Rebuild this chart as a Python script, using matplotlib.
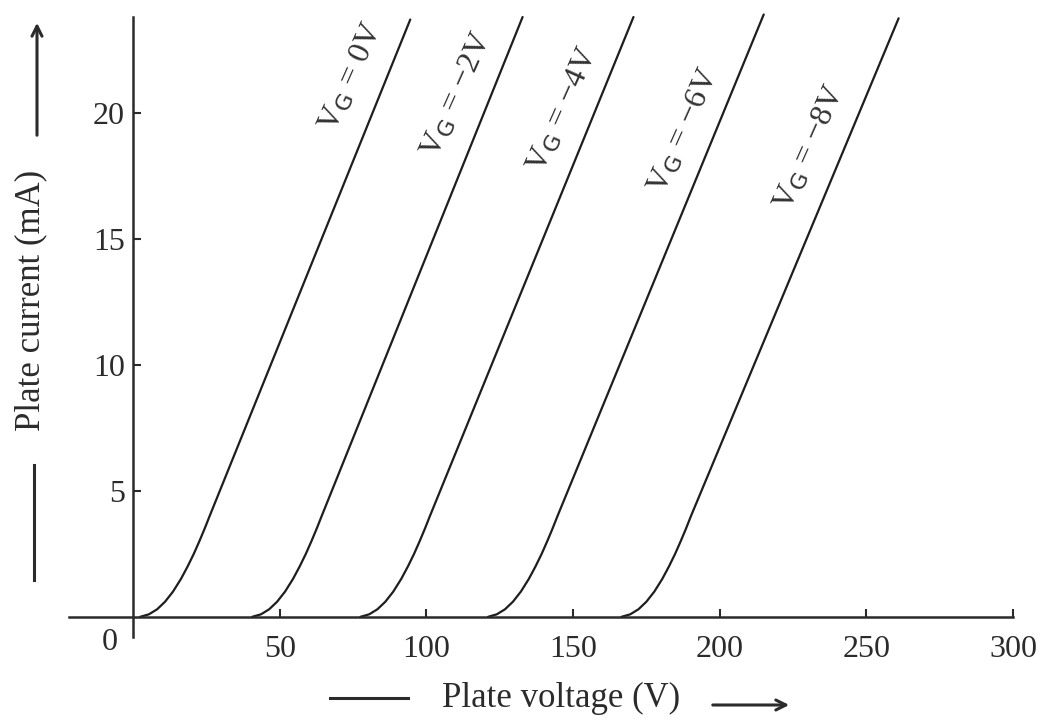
"""Triode plate characteristics: plate current vs plate voltage for several grid voltages."""

import matplotlib
matplotlib.use("Agg")
import matplotlib.pyplot as plt

plt.rcParams["font.family"] = ["Liberation Serif", "DejaVu Serif"]
plt.rcParams["mathtext.default"] = "regular"

# curves: plate voltage (V) and plate current (mA)
plate_i = [0, 0.1, 0.3, 0.6, 1.0, 1.5, 2.0, 2.5, 3.0, 3.5, 4.0]

vg_0_v = [2.4, 5.4, 8.2, 10.9, 13.6, 16.3, 18.6, 20.7, 22.6, 24.4, 26.1, 94.5]
vg_0_i = plate_i + [23.7]

vg_2_v = [40.6, 43.6, 46.4, 49.1, 51.8, 54.5, 56.8, 58.9, 60.8, 62.6, 64.3, 132.8]
vg_2_i = plate_i + [23.8]

vg_4_v = [77.5, 80.5, 83.3, 86.0, 88.7, 91.4, 93.7, 95.8, 97.7, 99.5, 101.2, 170.6]
vg_4_i = plate_i + [23.8]

vg_6_v = [121, 124.0, 126.8, 129.5, 132.2, 134.9, 137.2, 139.3, 141.2, 143.0, 144.7, 215]
vg_6_i = plate_i + [23.9]

vg_8_v = [166.5, 169.5, 172.3, 175.0, 177.7, 180.4, 182.7, 184.8, 186.7, 188.5, 190.2, 261]
vg_8_i = plate_i + [23.75]

curve_labels = [r"V$_{\rm G}$ = 0V", r"V$_{\rm G}$ = −2V", r"V$_{\rm G}$ = −4V",
                r"V$_{\rm G}$ = −6V", r"V$_{\rm G}$ = −8V"]
label_v = [74.6, 110.4, 146.8, 187.8, 230.8]
label_i = [21.4, 20.7, 20.1, 19.3, 18.6]

x_ticks = [50, 100, 150, 200, 250, 300]
y_ticks = [5, 10, 15, 20]

ink = "#2b2b2b"

fig = plt.figure(figsize=(10.45, 7.21), dpi=100)
ax = fig.add_axes([0.0656, 0.1165, 0.9038, 0.8599])
ax.set_xlim(-22, 300)
ax.set_ylim(-0.8, 23.8)

for spine in ("top", "right"):
    ax.spines[spine].set_visible(False)
for spine in ("left", "bottom"):
    ax.spines[spine].set_position(("data", 0))
    ax.spines[spine].set_linewidth(1.8)
    ax.spines[spine].set_color(ink)

ax.set_xticks(x_ticks)
ax.set_xticklabels([str(t) for t in x_ticks])
ax.set_yticks(y_ticks)
ax.set_yticklabels([str(t) for t in y_ticks])
ax.tick_params(direction="in", length=6, width=1.5, colors=ink, labelsize=23)
ax.tick_params(axis="x", pad=13)
ax.tick_params(axis="y", pad=6)

ax.annotate("0", xy=(0, 0), xytext=(-23, -26), textcoords="offset pixels",
            ha="center", va="center", fontsize=23, color=ink)

curves = [(vg_0_v, vg_0_i), (vg_2_v, vg_2_i), (vg_4_v, vg_4_i),
          (vg_6_v, vg_6_i), (vg_8_v, vg_8_i)]
for v, i in curves:
    ax.plot(v, i, color="#1e1e1e", lw=1.6, solid_joinstyle="round",
            solid_capstyle="round", clip_on=False)

for text, v, i in zip(curve_labels, label_v, label_i):
    ax.text(v, i, text, rotation=66, rotation_mode="anchor", ha="center", va="center",
            fontsize=23, color="#333333")

# axis titles with the dash and arrow decorations of the original figure
W, H = 1045, 721
fig.text(561 / W, 1 - 698 / H, "Plate voltage (V)", ha="center", va="center",
         fontsize=25, color=ink)
fig.add_artist(plt.Line2D([330 / W, 408 / W], [1 - 698 / H, 1 - 698 / H],
                          color=ink, lw=2.2))
fig.text(31 / W, 1 - 300 / H, "Plate current (mA)", rotation=90, ha="center",
         va="center", fontsize=25, color=ink)
fig.add_artist(plt.Line2D([34 / W, 34 / W], [1 - 465 / H, 1 - 580 / H],
                          color=ink, lw=2.2))
ax.annotate("", xy=(792 / W, 1 - 705 / H), xytext=(710 / W, 1 - 705 / H),
            xycoords="figure fraction", textcoords="figure fraction",
            arrowprops=dict(arrowstyle="->", color=ink, lw=2.2, mutation_scale=18))
ax.annotate("", xy=(37 / W, 1 - 20 / H), xytext=(37 / W, 1 - 138 / H),
            xycoords="figure fraction", textcoords="figure fraction",
            arrowprops=dict(arrowstyle="->", color=ink, lw=2.2, mutation_scale=18))

fig.savefig("out.png", dpi=100, facecolor="white")
